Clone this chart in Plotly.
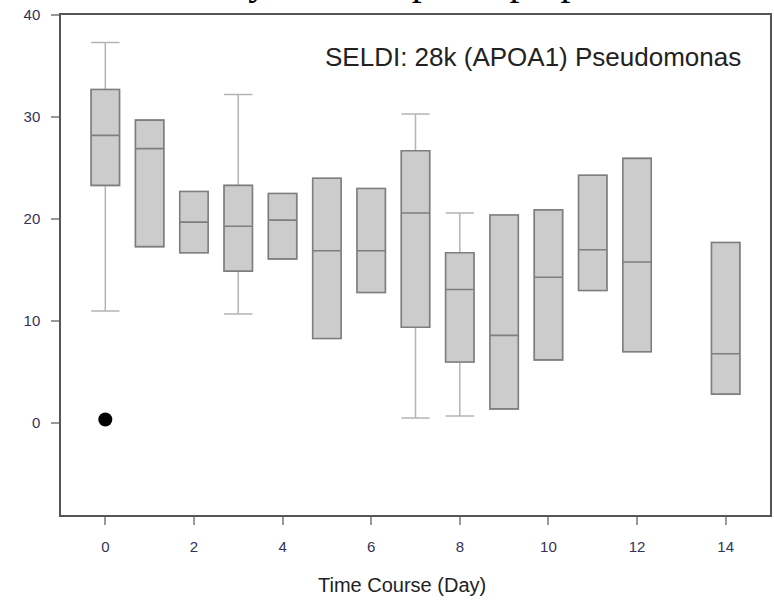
import plotly.graph_objects as go

# Data
days      = [0, 1, 2, 3, 4, 5, 6, 7, 8, 9, 10, 11, 12, 14]
q1        = [23.3, 17.3, 16.7, 14.9, 16.1, 8.3, 12.8, 9.4, 6.0, 1.4, 6.2, 13.0, 7.0, 2.85]
median    = [28.2, 26.9, 19.7, 19.3, 19.9, 16.9, 16.9, 20.6, 13.1, 8.6, 14.3, 17.0, 15.8, 6.8]
q3        = [32.7, 29.7, 22.7, 23.3, 22.5, 24.0, 23.0, 26.7, 16.7, 20.4, 20.9, 24.3, 25.95, 17.7]
lower_wh  = [11.0, 17.3, 16.7, 10.7, 16.1, 8.3, 12.8, 0.5, 0.7, 1.4, 6.2, 13.0, 7.0, 2.85]
upper_wh  = [37.3, 29.7, 22.7, 32.2, 22.5, 24.0, 23.0, 30.3, 20.6, 20.4, 20.9, 24.3, 25.95, 17.7]
outlier_x = [0]
outlier_y = [0.36]

x_ticks = [0, 2, 4, 6, 8, 10, 12, 14]
y_ticks = [0, 10, 20, 30, 40]

fig = go.Figure()

# whiskers (light grey)
fig.add_trace(go.Box(
    x=days, q1=q1, median=median, q3=q3,
    lowerfence=lower_wh, upperfence=upper_wh,
    width=0.64, whiskerwidth=1,
    fillcolor="#cccccc", line=dict(color="#b4b4b4", width=1.5),
    boxpoints=False, showlegend=False, hoverinfo="skip",
))
# boxes (darker outline) overlaid
fig.add_trace(go.Box(
    x=days, q1=q1, median=median, q3=q3,
    lowerfence=q1, upperfence=q3,
    width=0.64, whiskerwidth=0,
    fillcolor="#cccccc", line=dict(color="#7e7e7e", width=1.6),
    boxpoints=False, showlegend=False,
))
fig.add_trace(go.Scatter(
    x=outlier_x, y=outlier_y, mode="markers",
    marker=dict(color="black", size=14), showlegend=False,
))

axis_common = dict(
    showgrid=False, zeroline=False, showline=True, linecolor="#555555",
    linewidth=1.5, mirror=True, ticks="outside", ticklen=8, tickcolor="#999999",
    tickwidth=1.5, tickfont=dict(family="Liberation Sans, Arial", size=15, color="#333355"),
)

fig.update_layout(
    width=774, height=605,
    margin=dict(l=61, r=2, t=15, b=90),
    paper_bgcolor="white", plot_bgcolor="white",
    boxmode="overlay",
    xaxis=dict(range=[-1, 15], tickvals=x_ticks, ticklabelstandoff=9, **axis_common),
    yaxis=dict(range=[-9, 40], tickvals=y_ticks, ticklabelstandoff=8, **axis_common),
    annotations=[
        dict(text="SELDI: 28k (APOA1) Pseudomonas", xref="paper", yref="paper",
             x=0.962, y=0.915, xanchor="right", yanchor="middle", showarrow=False,
             font=dict(family="Liberation Sans, Arial", size=26, color="#222222")),
        dict(text="Time Course (Day)", xref="paper", yref="paper",
             x=0.481, y=-0.14, xanchor="center", yanchor="middle", showarrow=False,
             font=dict(family="Liberation Sans, Arial", size=20, color="#222222")),
        dict(text="Study of the top and prep", xref="paper", yref="paper",
             x=0.158, y=1, xanchor="left", yanchor="bottom", yshift=10, showarrow=False,
             font=dict(family="Liberation Serif, serif", size=40, color="black")),
    ],
)

fig.write_html("out.html")
